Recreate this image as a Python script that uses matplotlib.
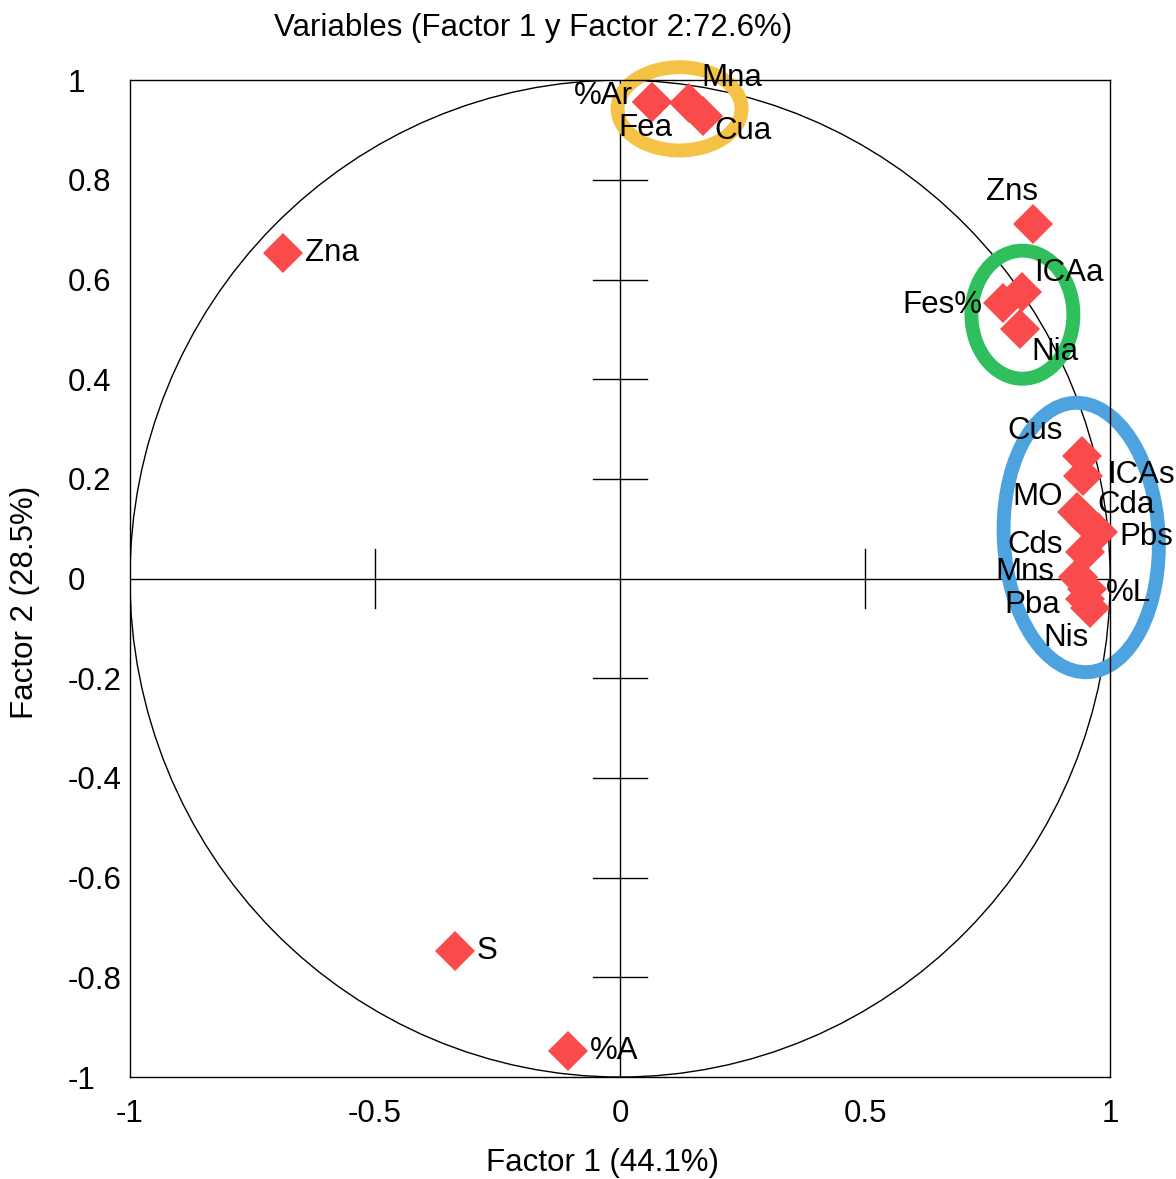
import numpy as np
import matplotlib.pyplot as plt
from matplotlib.patches import Circle, Ellipse

plt.rcParams['font.family'] = ['Liberation Sans', 'DejaVu Sans']

# loadings on factor 1 / factor 2
names = ['%Ar', 'Fea', 'Mna', 'Cua', 'Zns', 'ICAa', 'Fes%', 'Nia', 'Zna', 'S', '%A',
         'Cus', 'ICAs', 'MO', 'Cda', 'Pbs', 'Cds', 'Mns', '%L', 'Pba', 'Nis']
f1 = [0.065, 0.065, 0.14, 0.17, 0.843, 0.82, 0.782, 0.816, -0.688, -0.337, -0.106,
      0.943, 0.945, 0.932, 0.952, 0.976, 0.949, 0.935, 0.952, 0.949, 0.959]
f2 = [0.957, 0.957, 0.955, 0.928, 0.712, 0.574, 0.552, 0.501, 0.654, -0.748, -0.947,
      0.245, 0.205, 0.134, 0.114, 0.094, 0.054, 0.004, -0.02, -0.04, -0.06]

FS = 22.5

# label offsets in points (dx, dy, ha)
offsets = {
    '%Ar': (-14, 4, 'right'), 'Fea': (-5, -19, 'center'), 'Mna': (9, 18, 'left'),
    'Cua': (8, -11, 'left'), 'Zns': (-15, 23, 'center'), 'ICAa': (9, 14, 'left'),
    'Fes%': (-15, -1, 'right'), 'Nia': (8, -17, 'left'), 'Zna': (16, 0, 'left'),
    'S': (16, 0, 'left'), '%A': (16, 0, 'left'), 'Cus': (-14, 18, 'right'),
    'ICAs': (17, 1, 'left'), 'MO': (-10, 11, 'right'), 'Cda': (8, 12, 'left'),
    'Pbs': (15, -4, 'left'), 'Cds': (-16, 5, 'right'), 'Mns': (-17, 3, 'right'),
    '%L': (14, -3, 'left'), 'Pba': (-18, -5, 'right'), 'Nis': (-17, -21, 'center'),
}

# highlighted groups: members, colour, padding (x, y), centre shift (x, y), angle
groups = [
    (['%Ar', 'Fea', 'Mna', 'Cua'], '#F4C244', (0.074, 0.069), (0.004, 0.0), 0),
    (['ICAa', 'Fes%', 'Nia'], '#2FBF5C', (0.085, 0.092), (0.02, -0.008), 0),
    (['Cus', 'ICAs', 'MO', 'Cda', 'Pbs', 'Cds', 'Mns', '%L', 'Pba', 'Nis'], '#4DA3DF',
     (0.136, 0.118), (-0.013, -0.01), 3),
]

fig = plt.figure(figsize=(11.76, 11.79), dpi=100)
ax = fig.add_axes([0.1105, 0.0865, 0.8335, 0.8455])
ax.set_xlim(-1, 1)
ax.set_ylim(-1, 1)

ax.add_patch(Circle((0, 0), 1, fill=False, color='black', lw=1.0))
ax.axhline(0, color='black', lw=1.0)
ax.axvline(0, color='black', lw=1.0)
for xv in [-0.5, 0.5]:
    ax.plot([xv, xv], [-0.06, 0.06], color='black', lw=1.0)
for yv in [-0.8, -0.6, -0.4, -0.2, 0.2, 0.4, 0.6, 0.8]:
    ax.plot([-0.055, 0.055], [yv, yv], color='black', lw=1.0)

lookup = dict(zip(names, zip(f1, f2)))
for members, color, (padx, pady), (sx, sy), ang in groups:
    xs = [lookup[m][0] for m in members]
    ys = [lookup[m][1] for m in members]
    cx = (min(xs) + max(xs)) / 2 + sx
    cy = (min(ys) + max(ys)) / 2 + sy
    w = max(xs) - min(xs) + 2 * padx
    h = max(ys) - min(ys) + 2 * pady
    ax.add_patch(Ellipse((cx, cy), w, h, angle=ang, fill=False, color=color,
                         lw=10, zorder=2, clip_on=False))

ax.plot(f1, f2, 'D', color='#F94B4B', markersize=20, markeredgewidth=0, zorder=3,
        clip_on=False)

for n, x, y in zip(names, f1, f2):
    dx, dy, ha = offsets[n]
    ax.annotate(n, (x, y), xytext=(dx, dy), textcoords='offset points',
                ha=ha, va='center', fontsize=FS, zorder=4, annotation_clip=False)

ax.set_xticks([-1, -0.5, 0, 0.5, 1])
ax.set_xticklabels(['-1', '-0.5', '0', '0.5', '1'])
ax.set_yticks([-1, -0.8, -0.6, -0.4, -0.2, 0, 0.2, 0.4, 0.6, 0.8, 1])
ax.set_yticklabels(['-1', '-0.8', '-0.6', '-0.4', '-0.2', '0', '0.2', '0.4', '0.6', '0.8', '1'])
ax.tick_params(axis='x', length=0, pad=16, labelsize=FS)
ax.tick_params(axis='y', length=0, pad=45, labelsize=FS)
for lab in ax.get_yticklabels():
    lab.set_ha('left')
for s in ax.spines.values():
    s.set_linewidth(1.0)

fig.text(533 / 1176, 1 - 28 / 1179, 'Variables (Factor 1 y Factor 2:72.6%)',
         ha='center', va='center', fontsize=FS)
fig.text(602 / 1176, 1 - 1163 / 1179, 'Factor 1 (44.1%)',
         ha='center', va='center', fontsize=FS)
fig.text(25 / 1176, 1 - 602 / 1179, 'Factor 2 (28.5%)', rotation=90,
         ha='center', va='center', fontsize=FS)

fig.savefig('out.png', dpi=100)
